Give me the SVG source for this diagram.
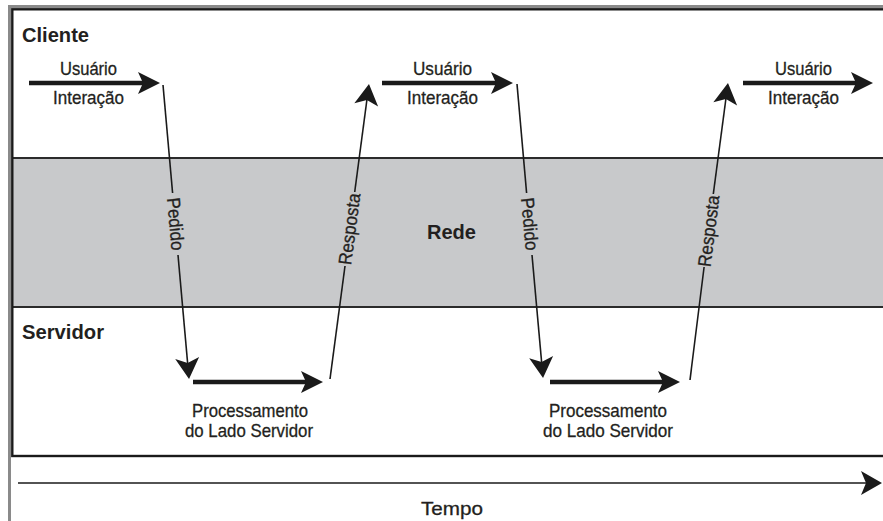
<svg xmlns="http://www.w3.org/2000/svg" width="883" height="521" viewBox="0 0 883 521">
  <style>
    .lbl { font-family: "Liberation Sans", Arial, sans-serif; font-size: 18.5px; fill: #231f20; stroke: #231f20; stroke-width: 0.3px; }
    .lane { font-family: "Liberation Sans", Arial, sans-serif; font-size: 21px; font-weight: bold; fill: #231f20; }
    .thick { stroke: #1a1a1a; stroke-width: 4.5; fill: none; }
    .thin { stroke: #1a1a1a; stroke-width: 1.6; fill: none; }
    .frame { stroke: #1a1a1a; stroke-width: 2.4; fill: none; }
    .sep { stroke: #2b2b2b; stroke-width: 2; }
  </style>
  <defs>
    <!-- notched arrowhead for the heavy interaction/processing arrows -->
    <marker id="head-thick" viewBox="-16 -12 26 24" refX="0" refY="0" markerWidth="26" markerHeight="24" markerUnits="userSpaceOnUse" orient="auto">
      <path d="M8,0 L-14,-11 L-9,0 L-14,11 Z" fill="#1a1a1a"/>
    </marker>
    <!-- notched arrowhead for the request/response lines -->
    <marker id="head-thin" viewBox="-18 -13 26 26" refX="0" refY="0" markerWidth="26" markerHeight="26" markerUnits="userSpaceOnUse" orient="auto">
      <path d="M6,0 L-15,-12 L-10,0 L-15,12 Z" fill="#1a1a1a"/>
    </marker>
  </defs>

  <rect width="883" height="521" fill="#ffffff"/>

  <!-- outer gray border -->
  <path d="M9.5,521 V6.5 H883" stroke="#8a8a8a" stroke-width="3" fill="none"/>

  <!-- swimlanes -->
  <g id="cliente">
    <rect x="12.3" y="9.3" width="880" height="148.7" fill="#ffffff"/>
    <text class="lane" x="22" y="42" textLength="67" lengthAdjust="spacingAndGlyphs">Cliente</text>
  </g>
  <g id="rede">
    <rect x="12.3" y="158" width="880" height="149" fill="#c8c9cb"/>
    <line class="sep" x1="12" y1="158" x2="883" y2="158"/>
    <line class="sep" x1="12" y1="307" x2="883" y2="307"/>
    <text class="lane" x="427" y="239" textLength="49" lengthAdjust="spacingAndGlyphs">Rede</text>
  </g>
  <g id="servidor">
    <text class="lane" x="22" y="339" textLength="82" lengthAdjust="spacingAndGlyphs">Servidor</text>
  </g>
  <rect class="frame" x="12.3" y="9.3" width="880" height="446.7"/>

  <!-- user interaction steps -->
  <g id="interacao-1">
    <text class="lbl" x="60" y="75" textLength="57" lengthAdjust="spacingAndGlyphs">Usuário</text>
    <text class="lbl" x="53" y="104" textLength="71" lengthAdjust="spacingAndGlyphs">Interação</text>
  </g>
  <g id="interacao-2">
    <text class="lbl" x="413" y="75" textLength="59" lengthAdjust="spacingAndGlyphs">Usuário</text>
    <text class="lbl" x="407" y="104" textLength="71" lengthAdjust="spacingAndGlyphs">Interação</text>
  </g>
  <g id="interacao-3">
    <text class="lbl" x="775" y="75" textLength="57" lengthAdjust="spacingAndGlyphs">Usuário</text>
    <text class="lbl" x="768" y="104" textLength="71" lengthAdjust="spacingAndGlyphs">Interação</text>
  </g>

  <!-- server processing steps -->
  <g id="processamento-1">
    <text class="lbl" x="192" y="417" textLength="116" lengthAdjust="spacingAndGlyphs">Processamento</text>
    <text class="lbl" x="185" y="437" textLength="128" lengthAdjust="spacingAndGlyphs">do Lado Servidor</text>
  </g>
  <g id="processamento-2">
    <text class="lbl" x="549" y="417" textLength="118" lengthAdjust="spacingAndGlyphs">Processamento</text>
    <text class="lbl" x="543" y="437" textLength="130" lengthAdjust="spacingAndGlyphs">do Lado Servidor</text>
  </g>

  <!-- connectors -->
  <g id="connectors">
    <!-- interaction arrows -->
    <line class="thick" x1="29" y1="83" x2="152" y2="83" marker-end="url(#head-thick)"/>
    <line class="thick" x1="382" y1="83" x2="505" y2="83" marker-end="url(#head-thick)"/>
    <line class="thick" x1="743" y1="83" x2="865" y2="83" marker-end="url(#head-thick)"/>
    <!-- processing arrows -->
    <line class="thick" x1="193" y1="382" x2="315" y2="382" marker-end="url(#head-thick)"/>
    <line class="thick" x1="550" y1="382" x2="672" y2="382" marker-end="url(#head-thick)"/>

    <!-- request 1 -->
    <line class="thin" x1="163" y1="85" x2="172.6" y2="193"/>
    <line class="thin" x1="178" y1="255" x2="188.5" y2="373" marker-end="url(#head-thin)"/>
    <text class="lbl" transform="translate(175.3 224) rotate(84.9)" x="0" y="6" text-anchor="middle" textLength="53" lengthAdjust="spacingAndGlyphs">Pedido</text>
    <!-- response 1 -->
    <line class="thin" x1="330" y1="379" x2="345" y2="266"/>
    <line class="thin" x1="354.7" y1="192" x2="368.2" y2="90" marker-end="url(#head-thin)"/>
    <text class="lbl" transform="translate(349.8 229) rotate(-82.5)" x="0" y="6" text-anchor="middle" textLength="72" lengthAdjust="spacingAndGlyphs">Resposta</text>

    <!-- request 2 -->
    <line class="thin" x1="517" y1="84" x2="526.6" y2="193"/>
    <line class="thin" x1="532" y1="255" x2="542.5" y2="372" marker-end="url(#head-thin)"/>
    <text class="lbl" transform="translate(529.4 224) rotate(84.9)" x="0" y="6" text-anchor="middle" textLength="53" lengthAdjust="spacingAndGlyphs">Pedido</text>
    <!-- response 2 -->
    <line class="thin" x1="690" y1="380" x2="704.1" y2="267"/>
    <line class="thin" x1="713.3" y1="194" x2="727.2" y2="89" marker-end="url(#head-thin)"/>
    <text class="lbl" transform="translate(709 231) rotate(-82.7)" x="0" y="6" text-anchor="middle" textLength="72" lengthAdjust="spacingAndGlyphs">Resposta</text>

    <!-- time axis -->
    <line class="thin" x1="18" y1="483" x2="876" y2="483" stroke-width="2" marker-end="url(#head-thin)"/>
  </g>

  <text class="lbl" x="421" y="515" textLength="62" lengthAdjust="spacingAndGlyphs" style="font-size:19px">Tempo</text>
</svg>
